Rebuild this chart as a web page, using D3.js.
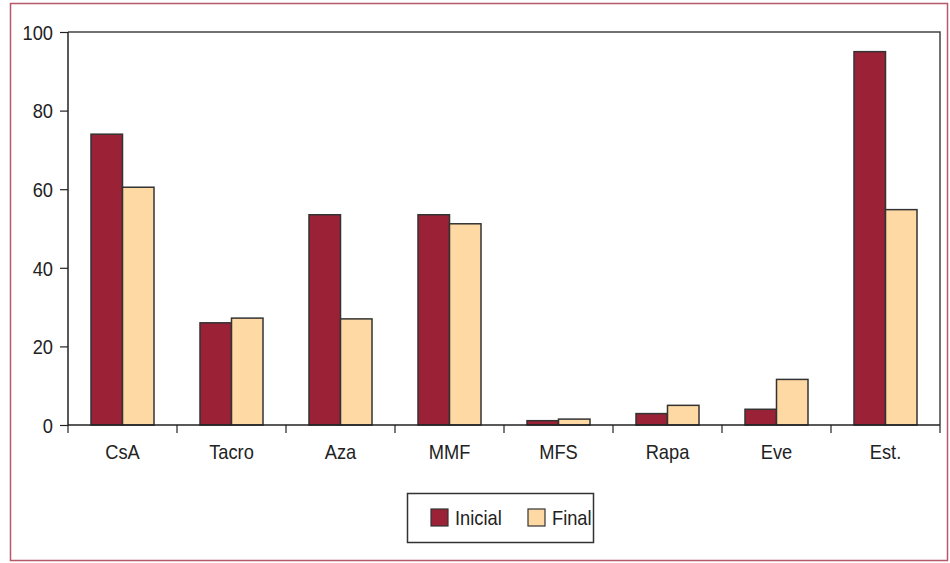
<!DOCTYPE html>
<html>
<head>
<meta charset="utf-8">
<script src="https://cdn.jsdelivr.net/npm/d3@7"></script>
<style>
  html, body { margin: 0; padding: 0; background: #fff; }
  svg { display: block; font-family: "Liberation Sans", Arial, sans-serif; }
</style>
</head>
<body>
<div id="chart"></div>
<script>
/* Grouped bars: initial vs final percentage per drug. */

var categories = ["CsA", "Tacro", "Aza", "MMF", "MFS", "Rapa", "Eve", "Est."];
var inicial = [74, 26, 53.5, 53.5, 1.1, 2.9, 4, 95];
var final = [60.5, 27.2, 27, 51.2, 1.5, 5, 11.6, 54.8];
var seriesNames = ["Inicial", "Final"];
var yTicks = [0, 20, 40, 60, 80, 100];

var width = 950, height = 563;
var fills = ["#9b2236", "#ffd9a3"];
var fs = 21;
var squeeze = 0.87; // narrow the glyphs, the original uses a condensed face

var svg = d3.select("#chart").append("svg")
  .attr("width", width).attr("height", height);

// outer frame
svg.append("rect")
  .attr("x", 10.5).attr("y", 3.5)
  .attr("width", 937).attr("height", 557)
  .attr("fill", "none").attr("stroke", "#b8566a").attr("stroke-width", 1.5);

var x = d3.scaleBand().domain(categories).range([68, 940]);
var xs = d3.scaleBand().domain(seriesNames).range([0, x.bandwidth()]).paddingOuter(0.73).paddingInner(0);
var y = d3.scaleLinear().domain([0, 100]).range([425, 32]);

// plot box (top/right)
svg.append("path")
  .attr("d", "M68," + y(100) + "H940V" + y(0))
  .attr("fill", "none").attr("stroke", "#444").attr("stroke-width", 1.5);

var rows = categories.map(function (c, i) { return { cat: c, values: [inicial[i], final[i]] }; });

var groups = svg.selectAll("g.grp").data(rows).enter().append("g")
  .attr("class", "grp")
  .attr("transform", function (d) { return "translate(" + x(d.cat) + ",0)"; });

groups.selectAll("rect").data(function (d) {
  return d.values.map(function (v, j) { return { name: seriesNames[j], v: v, j: j }; });
}).enter().append("rect")
  .attr("x", function (d) { return xs(d.name); })
  .attr("width", xs.bandwidth())
  .attr("y", function (d) { return y(d.v); })
  .attr("height", function (d) { return y(0) - y(d.v); })
  .attr("fill", function (d) { return fills[d.j]; })
  .attr("stroke", "#333").attr("stroke-width", 1.5);

// y axis
var yAxis = svg.append("g").attr("transform", "translate(68,0)")
  .call(d3.axisLeft(y).tickValues(yTicks).tickSize(8).tickPadding(5).tickFormat(d3.format("d")));
yAxis.select(".domain").attr("stroke", "#222").attr("stroke-width", 1.5).attr("d", "M0," + y(100) + "V" + y(0));
yAxis.selectAll(".tick line").attr("stroke", "#222").attr("stroke-width", 1.2);
yAxis.selectAll("text")
  .attr("font-size", fs).attr("fill", "#222").attr("font-family", "inherit")
  .attr("x", -15 / squeeze).attr("dy", "0.35em")
  .attr("transform", "scale(" + squeeze + ",1)");

// x axis with ticks at band boundaries
var xAxis = svg.append("g").attr("transform", "translate(0," + y(0) + ")");
xAxis.append("line").attr("x1", 68).attr("x2", 940).attr("stroke", "#222").attr("stroke-width", 1.5);
var bounds = categories.map(function (c) { return x(c); }).concat([x.range()[1]]);
xAxis.selectAll("line.t").data(bounds).enter().append("line")
  .attr("class", "t")
  .attr("x1", function (d) { return d; }).attr("x2", function (d) { return d; })
  .attr("y1", 0).attr("y2", 8)
  .attr("stroke", "#222").attr("stroke-width", 1.2);
xAxis.selectAll("text").data(categories).enter().append("text")
  .attr("transform", function (d) {
    return "translate(" + (x(d) + x.bandwidth() / 2) + ",34) scale(" + squeeze + ",1)";
  })
  .attr("text-anchor", "middle")
  .attr("font-size", fs).attr("fill", "#222")
  .text(function (d) { return d; });

// legend
var lg = svg.append("g").attr("transform", "translate(407,493)");
lg.append("rect").attr("x", 0.5).attr("y", 0.5).attr("width", 186).attr("height", 49)
  .attr("fill", "#fff").attr("stroke", "#333").attr("stroke-width", 1.5);
var items = lg.selectAll("g.item").data(seriesNames).enter().append("g")
  .attr("class", "item")
  .attr("transform", function (d, i) { return "translate(" + (24 + i * 97) + ",16)"; });
items.append("rect").attr("width", 17).attr("height", 17)
  .attr("fill", function (d, i) { return fills[i]; })
  .attr("stroke", "#333").attr("stroke-width", 1.2);
items.append("text")
  .attr("transform", "translate(24,16) scale(" + squeeze + ",1)")
  .attr("font-size", fs).attr("fill", "#222")
  .text(function (d) { return d; });
</script>
</body>
</html>
